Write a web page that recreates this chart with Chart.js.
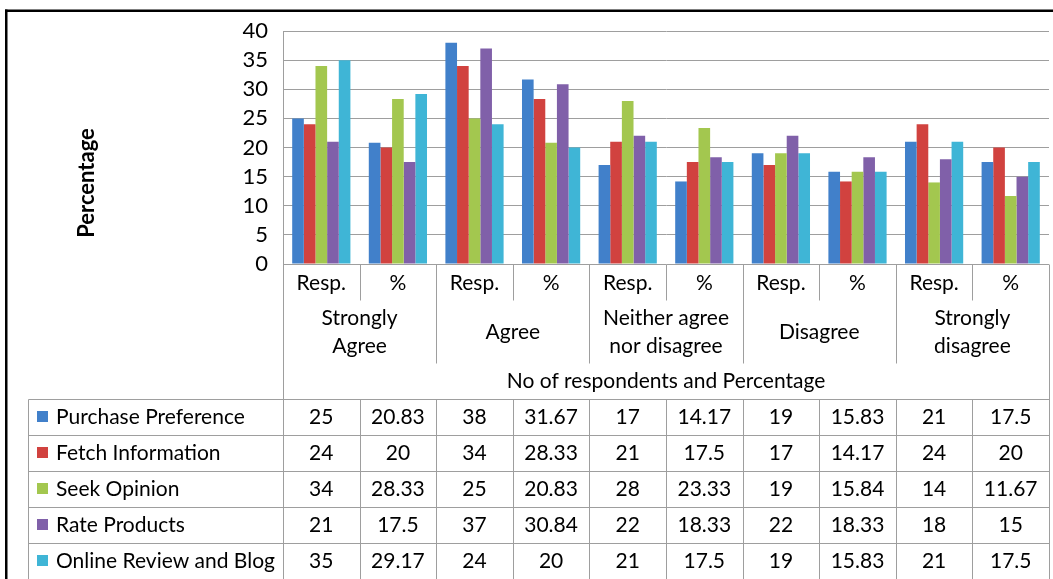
<!DOCTYPE html>
<html>
<head>
<meta charset="utf-8">
<script src="https://cdn.jsdelivr.net/npm/chart.js@4/dist/chart.umd.min.js"></script>
<style>
  html, body { margin: 0; padding: 0; background: #fff; }
  canvas { display: block; }
</style>
</head>
<body>
<canvas id="c" width="1053" height="579"></canvas>
<script>
// Sub-categories (bars) and response groups
const categories = ['Resp.', '%', 'Resp.', '%', 'Resp.', '%', 'Resp.', '%', 'Resp.', '%'];
const groups = [['Strongly', 'Agree'], ['Agree'], ['Neither agree', 'nor disagree'], ['Disagree'], ['Strongly', 'disagree']];
const xTitle = 'No of respondents and Percentage';
const yTitle = 'Percentage';

// Series
const seriesNames = ['Purchase Preference', 'Fetch Information', 'Seek Opinion', 'Rate Products', 'Online Review and Blog'];
const purchasePreference = [25, 20.83, 38, 31.67, 17, 14.17, 19, 15.83, 21, 17.5];
const fetchInformation   = [24, 20, 34, 28.33, 21, 17.5, 17, 14.17, 24, 20];
const seekOpinion        = [34, 28.33, 25, 20.83, 28, 23.33, 19, 15.84, 14, 11.67];
const rateProducts       = [21, 17.5, 37, 30.84, 22, 18.33, 22, 18.33, 18, 15];
const onlineReviewBlog   = [35, 29.17, 24, 20, 21, 17.5, 19, 15.83, 21, 17.5];
const seriesColors = ['#4180CA', '#D1423F', '#A3C74F', '#8060A9', '#3FB5D6'];

// Y axis
const yMin = 0, yMax = 40, yStep = 5;

const FONT = 'Lato, "Liberation Sans", sans-serif';
const TEXT_SIZE = 21;
const GRID = '#9E9E9E';

const seriesData = [purchasePreference, fetchInformation, seekOpinion, rateProducts, onlineReviewBlog];

// Frame, y title and the data table under the plot
const tablePlugin = {
  id: 'dataTable',
  afterDraw(chart) {
    const { ctx, chartArea: ca, scales: { x } } = chart;
    const n = categories.length;
    const colW = (ca.right - ca.left) / n;
    const edge = i => x.getPixelForValue(0) - colW / 2 + i * colW;
    const catBottom = ca.bottom + 36;
    const groupBottom = ca.bottom + 99;
    const tableTop = ca.bottom + 135;
    const rowH = 36;
    const legendLeft = 28;

    ctx.save();
    // outer black frame
    ctx.fillStyle = '#000';
    ctx.fillRect(5, 9.5, 2.5, chart.height);
    ctx.fillRect(5, 9.5, chart.width, 2.5);

    // y-axis title
    ctx.save();
    ctx.translate(87, 183);
    ctx.rotate(-Math.PI / 2);
    ctx.font = 'bold 22px ' + FONT;
    ctx.fillStyle = '#000';
    ctx.textAlign = 'center';
    ctx.textBaseline = 'middle';
    ctx.fillText(yTitle, 0, 0);
    ctx.restore();

    ctx.strokeStyle = GRID;
    ctx.lineWidth = 1;
    const line = (x1, y1, x2, y2) => {
      ctx.beginPath();
      ctx.moveTo(Math.round(x1) + 0.5, Math.round(y1) + 0.5);
      ctx.lineTo(Math.round(x2) + 0.5, Math.round(y2) + 0.5);
      ctx.stroke();
    };

    // header lines
    line(edge(0), ca.bottom, edge(0), chart.height);
    line(edge(n), ca.bottom, edge(n), chart.height);
    for (let i = 1; i < n; i++) {
      const bottom = (i % 2 === 0) ? groupBottom : catBottom;
      line(edge(i), ca.bottom, edge(i), bottom);
    }
    // data table grid
    for (let r = 0; r < seriesNames.length; r++) {
      line(legendLeft, tableTop + r * rowH, edge(n), tableTop + r * rowH);
    }
    line(legendLeft, tableTop, legendLeft, chart.height);
    for (let i = 1; i < n; i++) line(edge(i), tableTop, edge(i), chart.height);

    ctx.fillStyle = '#000';
    ctx.font = TEXT_SIZE + 'px ' + FONT;
    ctx.textAlign = 'center';
    ctx.textBaseline = 'middle';
    // category labels
    for (let i = 0; i < n; i++) {
      ctx.fillText(categories[i], x.getPixelForValue(i), ca.bottom + 19);
    }
    // group labels
    groups.forEach((g, k) => {
      const cx = edge(2 * k + 1);
      const cy = ca.bottom + 68;
      const lh = 28;
      g.forEach((t, j) => ctx.fillText(t, cx, cy + (j - (g.length - 1) / 2) * lh));
    });
    // axis title
    ctx.fillText(xTitle, (edge(0) + edge(n)) / 2, ca.bottom + 117);

    // rows
    seriesNames.forEach((name, r) => {
      const cy = tableTop + r * rowH + rowH / 2;
      ctx.fillStyle = seriesColors[r];
      ctx.fillRect(37, cy - 6, 11, 11);
      ctx.fillStyle = '#000';
      ctx.textAlign = 'left';
      ctx.fillText(name, 56, cy);
      ctx.textAlign = 'center';
      seriesData[r].forEach((v, i) => ctx.fillText(String(v), x.getPixelForValue(i), cy));
    });
    ctx.restore();
  }
};

new Chart(document.getElementById('c'), {
  type: 'bar',
  data: {
    labels: categories,
    datasets: seriesNames.map((name, k) => ({
      label: name,
      data: seriesData[k],
      backgroundColor: seriesColors[k],
      borderWidth: 0,
      categoryPercentage: 0.76,
      barPercentage: 1
    }))
  },
  options: {
    responsive: false,
    animation: false,
    layout: { padding: { left: 0, top: 31, right: 4, bottom: 315 } },
    plugins: { legend: { display: false }, tooltip: { enabled: false } },
    scales: {
      x: { display: false },
      y: {
        min: yMin, max: yMax,
        ticks: { stepSize: yStep, autoSkip: false, color: '#000', font: { family: FONT, size: 22 }, padding: 15 },
        grid: { color: GRID, drawTicks: false },
        border: { color: GRID },
        afterFit(scale) { scale.width = 283; }
      }
    }
  },
  plugins: [tablePlugin]
});
</script>
</body>
</html>
